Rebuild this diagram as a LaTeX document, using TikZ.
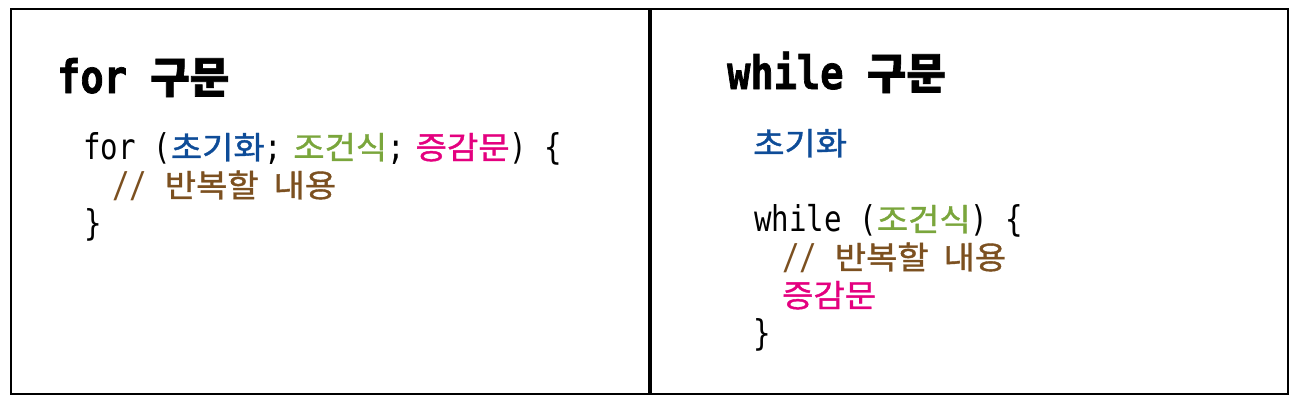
\documentclass[tikz,border=0pt]{standalone}
\usepackage{fontspec}
\newfontfamily\kr{Noto Sans CJK KR}[FakeBold=1.2, FakeStretch=1.08]
\newfontfamily\krT{Noto Sans CJK KR}[BoldFeatures={FakeBold=1.5}]
\newfontfamily\mono{DejaVu Sans Mono}[FakeStretch=0.82]
\newfontfamily\monoT{DejaVu Sans Mono}[FakeStretch=0.84, BoldFeatures={FakeBold=1.5}]
\definecolor{cblue}{RGB}{14,76,152}
\definecolor{cgreen}{RGB}{122,166,60}
\definecolor{cpink}{RGB}{228,0,127}
\definecolor{cbrown}{RGB}{124,80,32}
\newcommand\cK[1]{{\kr\fontsize{31.5}{38}\selectfont #1}}
\newcommand\tK[1]{{\krT\bfseries\fontsize{43}{48}\selectfont #1}}
\tikzset{
  code/.style={anchor=base west, inner sep=0pt, font=\mono\fontsize{35.5}{38}\selectfont},
  ttl/.style={anchor=base west, inner sep=0pt, font=\monoT\bfseries\fontsize{46}{50}\selectfont},
  frame/.style={line width=2pt, draw=black},
  divider/.style={line width=3.3pt, draw=black}
}
\begin{document}
\begin{tikzpicture}[x=1pt,y=-1pt]
\useasboundingbox (0,0) rectangle (1300,404);
\fill[white] (0,0) rectangle (1300,404);
\draw[frame] (11,8.8) rectangle (1288,394.3);
\coordinate (dtop) at (650,8.8);
\coordinate (dbot) at (650,394.3);
\draw[divider] (dtop) -- (dbot);
% left panel
\node[ttl] (t1) at (57,93) {for \tK{구문}};
\node[code] (f1) at (83,159) {for (\cK{\color{cblue}초기화};\hspace{-6.5pt} \cK{\color{cgreen}조건식};\hspace{-6.5pt} \cK{\color{cpink}증감문}) \{};
\node[code, text=cbrown] (f2) at (112,197) {// \cK{반복할}\hspace{-2.5pt} \cK{내용}};
\node[code] (f3) at (84,235) {\}};
% right panel
\node[ttl] (t2) at (727,89) {while \tK{구문}};
\node[code] (w0) at (753,155) {\cK{\color{cblue}초기화}};
\node[code] (w1) at (754,231) {while (\cK{\color{cgreen}조건식}) \{};
\node[code, text=cbrown] (w2) at (782,269) {// \cK{반복할}\hspace{-2.5pt} \cK{내용}};
\node[code] (w3) at (782,307) {\cK{\color{cpink}증감문}};
\node[code] (w4) at (753,345) {\}};
\end{tikzpicture}
\end{document}
